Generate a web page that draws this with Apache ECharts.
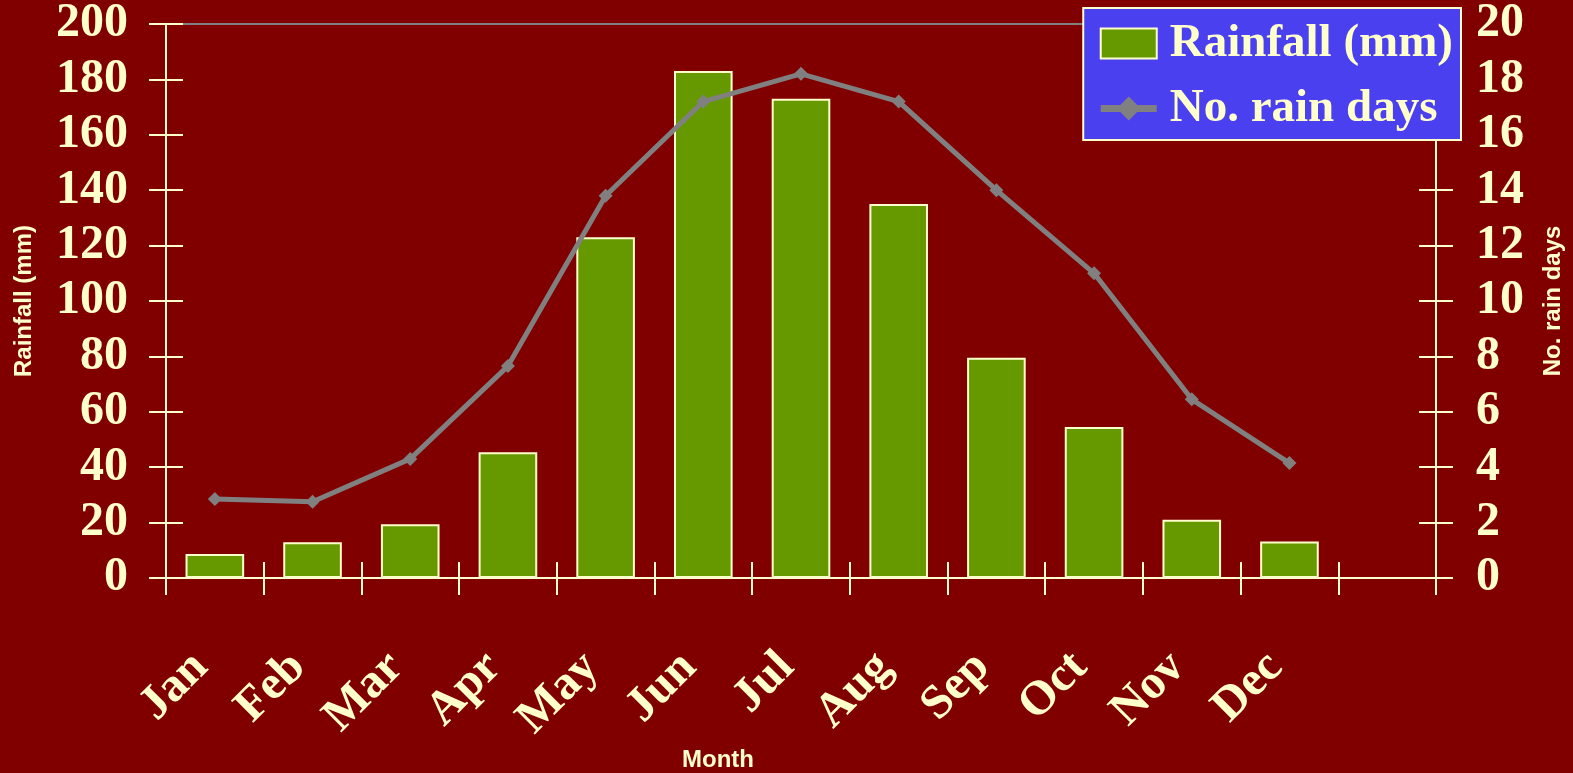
<!DOCTYPE html>
<html>
<head>
<meta charset="utf-8">
<script src="https://cdn.jsdelivr.net/npm/echarts@6/dist/echarts.min.js"></script>
<style>
html,body{margin:0;padding:0;background:#800000;}
#chart{width:1573px;height:773px;}
</style>
</head>
<body>
<div id="chart"></div>
<script>
const months = ['Jan','Feb','Mar','Apr','May','Jun','Jul','Aug','Sep','Oct','Nov','Dec',''];
const rainfall = [8.7, 12.9, 19.4, 45.4, 123, 183, 173, 135, 79.5, 54.5, 21, 13.2];
const rainDays = [2.85, 2.75, 4.3, 7.65, 13.8, 17.2, 18.2, 17.2, 14.0, 11.0, 6.45, 4.15];
const leftTicks = {min: 0, max: 200, interval: 20};
const rightTicks = {min: 0, max: 20, interval: 2};

const cream = '#FFFFCC';
const serif = '"Liberation Serif", "Times New Roman", serif';
const sans = '"Liberation Sans", Arial, sans-serif';

const chart = echarts.init(document.getElementById('chart'));
const splitColors = [];
for (let v = leftTicks.min; v <= leftTicks.max; v += leftTicks.interval) {
  splitColors.push(v === leftTicks.max ? '#808080' : 'rgba(0,0,0,0)');
}

chart.setOption({
  backgroundColor: '#800000',
  animation: false,
  title: {
    text: 'Month',
    left: 713, top: 743,
    textAlign: 'center',
    textStyle: {color: cream, fontFamily: '"Liberation Sans Narrow", ' + sans, fontWeight: 'bold', fontSize: 24}
  },
  grid: {left: 166, right: 137, top: 24, bottom: 195, containLabel: false},
  legend: {
    orient: 'vertical',
    right: 112, top: 8,
    backgroundColor: '#4B40F0',
    borderColor: cream, borderWidth: 2, borderRadius: 0,
    padding: [12, 8, 8, 14],
    itemGap: 18,
    itemWidth: 56, itemHeight: 30,
    lineStyle: {width: 7, color: '#808080'},
    textStyle: {color: cream, fontFamily: serif, fontWeight: 'bold', fontSize: 47, padding: [0, 0, 0, 8]},
    data: [{name: 'Rainfall (mm)', icon: 'rect'}, {name: 'No. rain days'}]
  },
  xAxis: [{
    type: 'category',
    data: months,
    position: 'bottom',
    boundaryGap: true,
    axisLine: {lineStyle: {color: cream, width: 2}},
    axisTick: {show: true, length: 17, inside: false, alignWithLabel: false, lineStyle: {color: cream, width: 2}},
    axisLabel: {color: cream, fontFamily: serif, fontWeight: 'bold', fontSize: 48, rotate: 45, margin: 68, interval: 0, padding: [0, 20, 0, 0]},
    splitLine: {show: false}
  }, {
    type: 'category',
    data: months,
    position: 'bottom',
    boundaryGap: true,
    axisLine: {show: false},
    axisTick: {show: true, length: 16, inside: true, lineStyle: {color: cream, width: 2}},
    axisLabel: {show: false},
    splitLine: {show: false}
  }],
  yAxis: [{
    type: 'value',
    position: 'left',
    min: leftTicks.min, max: leftTicks.max, interval: leftTicks.interval,
    name: 'Rainfall (mm)',
    nameLocation: 'middle',
    nameRotate: 90,
    nameGap: 130,
    nameTextStyle: {color: cream, fontFamily: sans, fontWeight: 'bold', fontSize: 24},
    axisLine: {show: true, lineStyle: {color: cream, width: 2}},
    axisTick: {show: true, length: 17, inside: false, lineStyle: {color: cream, width: 2}},
    axisLabel: {color: cream, fontFamily: serif, fontWeight: 'bold', fontSize: 48, margin: 38, padding: [6, 0, 0, 0]},
    splitLine: {show: true, lineStyle: {color: splitColors, width: 2}}
  }, {
    type: 'value',
    position: 'right',
    min: rightTicks.min, max: rightTicks.max, interval: rightTicks.interval,
    name: 'No. rain days',
    nameLocation: 'middle',
    nameRotate: 90,
    nameGap: 105,
    nameTextStyle: {color: cream, fontFamily: sans, fontWeight: 'bold', fontSize: 24},
    axisLine: {show: true, lineStyle: {color: cream, width: 2}},
    axisTick: {show: true, length: 17, inside: false, lineStyle: {color: cream, width: 2}},
    axisLabel: {color: cream, fontFamily: serif, fontWeight: 'bold', fontSize: 48, margin: 40, padding: [6, 0, 0, 0]},
    splitLine: {show: false}
  }, {
    type: 'value',
    position: 'left',
    min: leftTicks.min, max: leftTicks.max, interval: leftTicks.interval,
    axisLine: {show: false},
    axisTick: {show: true, length: 17, inside: true, lineStyle: {color: cream, width: 2}},
    axisLabel: {show: false},
    splitLine: {show: false}
  }, {
    type: 'value',
    position: 'right',
    min: rightTicks.min, max: rightTicks.max, interval: rightTicks.interval,
    axisLine: {show: false},
    axisTick: {show: true, length: 17, inside: true, lineStyle: {color: cream, width: 2}},
    axisLabel: {show: false},
    splitLine: {show: false}
  }],
  series: [{
    name: 'Rainfall (mm)',
    type: 'bar',
    xAxisIndex: 0, yAxisIndex: 0,
    data: rainfall,
    barWidth: '60%',
    itemStyle: {color: '#669900', borderColor: cream, borderWidth: 2}
  }, {
    name: 'No. rain days',
    type: 'line',
    xAxisIndex: 0, yAxisIndex: 1,
    data: rainDays,
    symbol: 'diamond',
    symbolSize: 14,
    lineStyle: {color: '#808080', width: 5},
    itemStyle: {color: '#808080'},
    z: 5
  }]
});
</script>
</body>
</html>
